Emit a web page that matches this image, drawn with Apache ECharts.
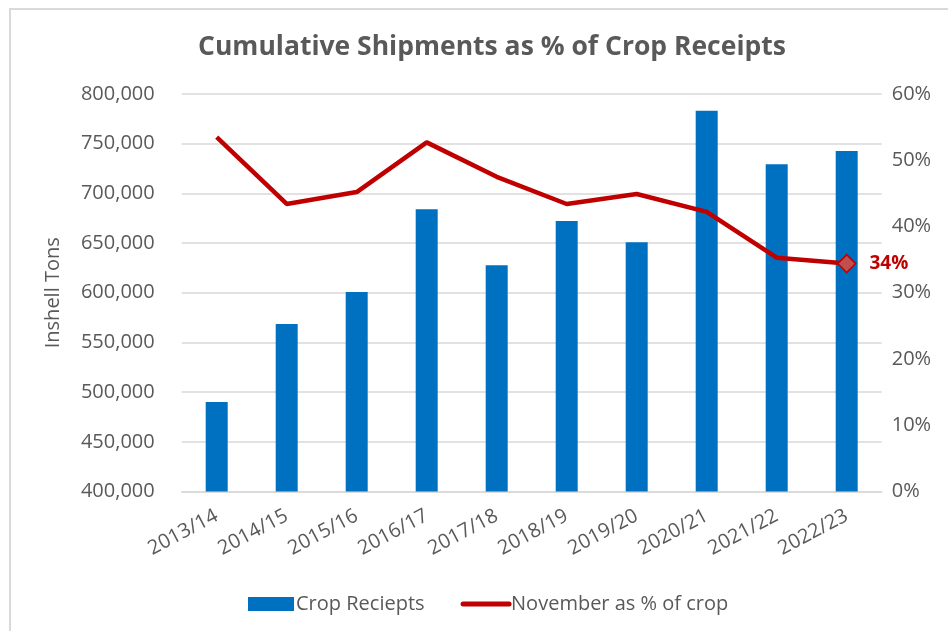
<!DOCTYPE html>
<html>
<head>
<meta charset="utf-8">
<script src="https://cdn.jsdelivr.net/npm/echarts@6/dist/echarts.min.js"></script>
<style>
html,body{margin:0;padding:0;background:#fff;}
#frame{position:absolute;left:9px;top:8px;width:960px;height:660px;border:2px solid #d9d9d9;box-sizing:border-box;}
#chart{position:absolute;left:0;top:0;width:948px;height:631px;}
</style>
</head>
<body>
<div id="frame"></div>
<div id="chart"></div>
<script>
var categories = ['2013/14','2014/15','2015/16','2016/17','2017/18','2018/19','2019/20','2020/21','2021/22','2022/23'];
var cropReceipts = [490000, 568600, 600800, 684000, 627600, 672200, 650800, 783200, 729300, 742600];
var novemberPct = [53.5, 43.4, 45.2, 52.7, 47.5, 43.4, 44.9, 42.2, 35.3, 34.4];
var leftTicks = [400000, 800000, 50000];
var rightTicks = [0, 60, 10];

var FONT = '"Open Sans", sans-serif';
var GREY = '#595959';

var lineData = novemberPct.map(function (v, i) {
  if (i === novemberPct.length - 1) {
    return {
      value: v,
      symbol: 'diamond',
      symbolSize: 18,
      itemStyle: { color: '#C0504D', borderColor: '#C00000', borderWidth: 1.5 },
      label: {
        show: true, position: 'right', distance: 13,
        formatter: function (p) { return Math.round(p.value) + '%'; },
        color: '#C00000', fontWeight: 'bold', fontSize: 19, fontFamily: FONT
      }
    };
  }
  return v;
});

var chart = echarts.init(document.getElementById('chart'), null, { renderer: 'canvas' });
chart.setOption({
  animation: false,
  backgroundColor: 'transparent',
  title: {
    text: 'Cumulative Shipments as % of Crop Receipts',
    left: 487, top: 29, textAlign: 'center',
    textStyle: { fontFamily: FONT, fontWeight: 'bold', fontSize: 26.5, color: GREY }
  },
  legend: {
    left: 248, top: 594, padding: 0,
    itemGap: 36, itemWidth: 46, itemHeight: 14,
    textStyle: { fontFamily: FONT, fontSize: 20, color: GREY, padding: [0, 0, 0, -3] },
    data: [
      { name: 'Crop Reciepts', icon: 'rect' },
      { name: 'November as % of crop', itemStyle: { opacity: 0 },
        lineStyle: { width: 5, cap: 'round', color: '#C00000' } }
    ]
  },
  grid: { left: 181.7, right: 66.3, top: 94, bottom: 139.5 },
  xAxis: {
    type: 'category',
    data: categories,
    axisLine: { lineStyle: { color: '#d9d9d9', width: 1.5 } },
    axisTick: { show: false },
    axisLabel: { rotate: 28, color: GREY, fontFamily: FONT, fontSize: 20, margin: 23 }
  },
  yAxis: [
    {
      type: 'value', min: leftTicks[0], max: leftTicks[1], interval: leftTicks[2],
      name: 'Inshell Tons', nameLocation: 'middle', nameGap: 118, nameRotate: 90,
      nameTextStyle: { fontFamily: FONT, fontSize: 20, color: GREY },
      axisLine: { show: false }, axisTick: { show: false },
      axisLabel: {
        color: GREY, fontFamily: FONT, fontSize: 20, margin: 27,
        formatter: function (v) { return v.toLocaleString('en-US'); }
      },
      splitLine: { lineStyle: { color: '#d9d9d9', width: 1.5 } }
    },
    {
      type: 'value', min: rightTicks[0], max: rightTicks[1], interval: rightTicks[2],
      position: 'right',
      axisLine: { show: false }, axisTick: { show: false },
      axisLabel: { color: GREY, fontFamily: FONT, fontSize: 20, margin: 10, formatter: '{value}%' },
      splitLine: { show: false }
    }
  ],
  series: [
    {
      name: 'Crop Reciepts', type: 'bar', yAxisIndex: 0,
      data: cropReceipts, barWidth: 22,
      itemStyle: { color: '#0070C0' }
    },
    {
      name: 'November as % of crop', type: 'line', yAxisIndex: 1,
      data: lineData, symbol: 'none',
      lineStyle: { color: '#C00000', width: 4.5 },
      itemStyle: { color: '#C00000' }
    }
  ]
});
</script>
</body>
</html>
